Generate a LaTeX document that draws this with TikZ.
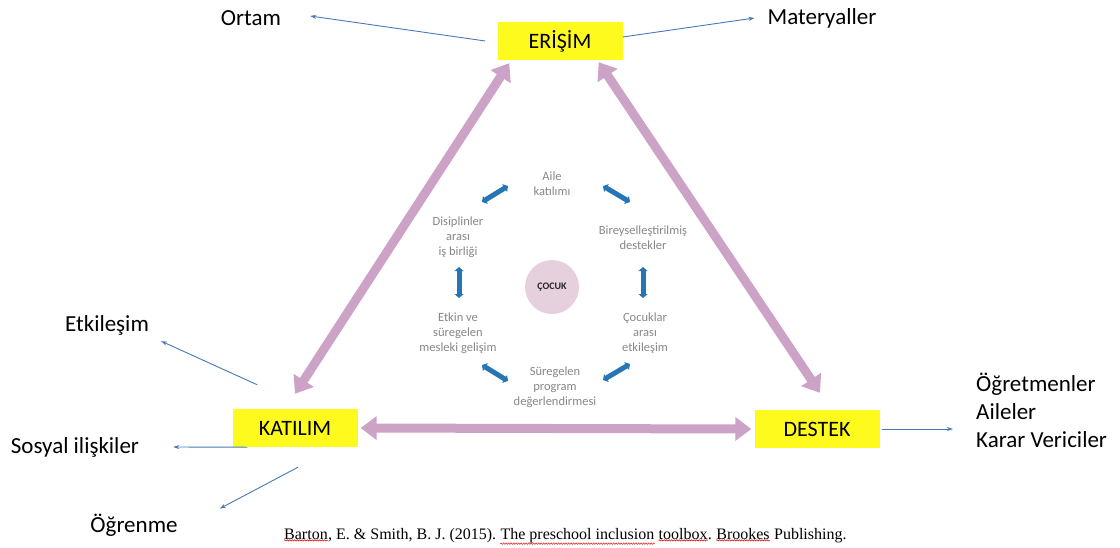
\documentclass[tikz,border=0pt]{standalone}
\usepackage{fontspec}
\setmainfont{Carlito}
\newfontfamily\citefont{Liberation Serif}
\usetikzlibrary{arrows.meta,decorations.pathmorphing}
\definecolor{lilac}{RGB}{204,162,199}
\definecolor{boxyellow}{RGB}{255,250,30}
\definecolor{ringblue}{RGB}{38,118,182}
\definecolor{thinblue}{RGB}{70,120,185}
\definecolor{ringgrey}{RGB}{135,135,135}
\definecolor{childpink}{RGB}{230,208,222}
\begin{document}
\begin{tikzpicture}[x=1pt, y=-1pt,
  keybox/.style={fill=boxyellow, minimum width=125pt, minimum height=38pt, inner sep=0pt, font=\fontsize{22}{26}\selectfont},
  outlabel/.style={font=\fontsize{23}{28}\selectfont, inner sep=0pt},
  ringtext/.style={align=center, text=ringgrey, font=\fontsize{12.5}{15}\selectfont, inner sep=0pt},
  pinkarrow/.style={draw=lilac, line width=9pt, {Triangle[width=23pt,length=16pt]}-{Triangle[width=23pt,length=16pt]}},
  ringarrow/.style={draw=ringblue, line width=5pt, {Triangle[width=9pt,length=4pt]}-{Triangle[width=9pt,length=4pt]}},
  thinarrow/.style={draw=thinblue, line width=0.9pt, -{Stealth[length=6pt,width=4pt]}},
  citepart/.style={font=\citefont\fontsize{16}{19}\selectfont, inner sep=0pt, anchor=base west},
  spellwave/.style={draw=red!85!black, line width=0.5pt, decorate, decoration={snake, amplitude=0.7pt, segment length=2.5pt}}]
\useasboundingbox (0,0) rectangle (1120,547);
% the three key boxes
\node[keybox] (erisim) at (560,41) {ERİŞİM};
\node[keybox] (katilim) at (295,428) {KATILIM};
\node[keybox] (destek) at (817,429) {DESTEK};
% outer labels
\node[outlabel] (ortam) at (251,18) {Ortam};
\node[outlabel] (mat) at (822,18) {Materyaller};
\node[outlabel] (etk) at (107,325) {Etkileşim};
\node[outlabel] (sosyal) at (75,447) {Sosyal ilişkiler};
\node[outlabel] (ogrenme) at (134,525) {Öğrenme};
\node[outlabel, align=left, anchor=west] (paydas) at (976,410) {Öğretmenler\\Aileler\\Karar Vericiler};
\draw[thinarrow] ([xshift=-12pt]erisim.west) -- ([xshift=29pt,yshift=2pt]ortam.east);
\draw[thinarrow] ([yshift=4pt]erisim.east) -- ([xshift=-13pt]mat.west);
\draw[thinarrow] ([xshift=25pt,yshift=24pt]katilim.north west) -- ([xshift=12pt,yshift=-6pt]etk.south east);
\draw[thinarrow] ([xshift=15pt]katilim.south west) -- ([xshift=34pt]sosyal.east);
\draw[thinarrow] ([xshift=3pt,yshift=-20pt]katilim.south) -- ([xshift=42pt,yshift=5pt]ogrenme.north east);
\draw[thinarrow] ([xshift=2pt]destek.east) -- ([xshift=-23pt,yshift=-19pt]paydas.west);
% triangle
\draw[pinkarrow] ([yshift=15pt]katilim.north) -- ([xshift=12pt,yshift=-3pt]erisim.south west);
\draw[pinkarrow] ([xshift=-24pt,yshift=-2pt]erisim.south east) -- ([xshift=3pt,yshift=17pt]destek.north);
\draw[pinkarrow] ([xshift=3pt]katilim.east) -- ([xshift=-3pt]destek.west);
% inner ring
\node[circle, fill=childpink, minimum size=54pt, inner sep=0pt, font=\bfseries\fontsize{10}{11}\selectfont, text=black!85] (cocuk) at (552,287) {ÇOCUK};
\node[ringtext] (aile) at (552,184) {Aile\\katılımı};
\node[ringtext] (bireysel) at (643,238) {Bireyselleştirilmiş\\destekler};
\node[ringtext] (cocuklar) at (645,333) {Çocuklar\\arası\\etkileşim};
\node[ringtext] (suregelen) at (555,387) {Süregelen\\program\\değerlendirmesi};
\node[ringtext] (etkin) at (458,333) {Etkin ve\\süregelen\\mesleki gelişim};
\node[ringtext] (disiplin) at (458,237) {Disiplinler\\arası\\iş birliği};
\draw[ringarrow] ([shift={(-44,2)}]aile.center) -- ([shift={(24,-35)}]disiplin.center);
\draw[ringarrow] ([shift={(51,2)}]aile.center) -- ([shift={(-13,-36)}]bireysel.center);
\draw[ringarrow] ([shift={(0,29)}]bireysel.center) -- ([shift={(-2,-35)}]cocuklar.center);
\draw[ringarrow] ([shift={(-15,31)}]cocuklar.center) -- ([shift={(48,-7)}]suregelen.center);
\draw[ringarrow] ([shift={(-47,-6)}]suregelen.center) -- ([shift={(24,32)}]etkin.center);
\draw[ringarrow] ([shift={(1,-35)}]etkin.center) -- ([shift={(1,30)}]disiplin.center);
% source line
\node[citepart] (src1) at (284,539) {Barton};
\node[citepart] (src2) at (src1.base east) {, E. \& Smith, B. J. (2015).};
\node[citepart] (src3) at ([xshift=4pt]src2.base east) {The preschool inclusion};
\node[citepart] (src4) at ([xshift=4pt]src3.base east) {toolbox};
\node[citepart] (src5) at (src4.base east) {.};
\node[citepart] (src6) at ([xshift=4pt]src5.base east) {Brookes};
\node[citepart] (src7) at ([xshift=4pt]src6.base east) {Publishing.};
\draw[spellwave] ([yshift=-1pt]src1.south west) -- ([yshift=-1pt]src1.south east);
\draw[spellwave] ([yshift=-1pt]src3.south west) -- ([yshift=-1pt]src3.south east);
\draw[spellwave] ([yshift=-1pt]src4.south west) -- ([yshift=-1pt]src4.south east);
\draw[spellwave] ([yshift=-1pt]src6.south west) -- ([yshift=-1pt]src6.south east);
\end{tikzpicture}
\end{document}
